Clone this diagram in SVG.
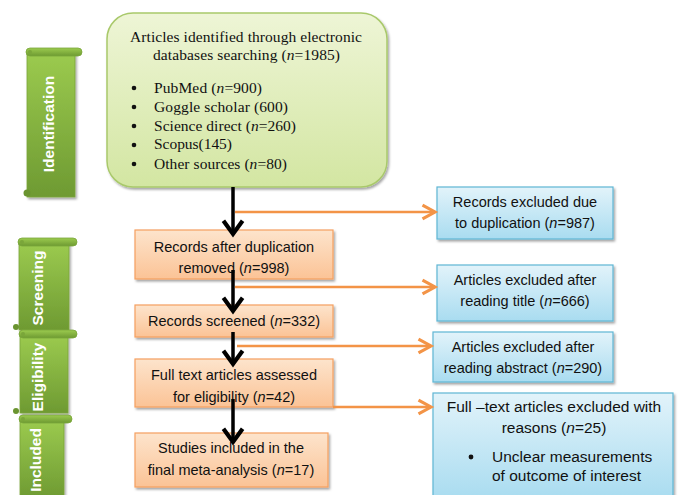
<svg xmlns="http://www.w3.org/2000/svg" width="693" height="495" viewBox="0 0 693 495">
<defs>
  <linearGradient id="gGreen" x1="0" y1="0" x2="0" y2="1">
    <stop offset="0" stop-color="#eef5d6"/>
    <stop offset="1" stop-color="#d3e6a2"/>
  </linearGradient>
  <linearGradient id="gOrange" x1="0" y1="0" x2="0" y2="1">
    <stop offset="0" stop-color="#fde4cc"/>
    <stop offset="1" stop-color="#fbc396"/>
  </linearGradient>
  <linearGradient id="gBlue" x1="0" y1="0" x2="0" y2="1">
    <stop offset="0" stop-color="#e2f3fa"/>
    <stop offset="1" stop-color="#a9dcf0"/>
  </linearGradient>
  <linearGradient id="gScroll" x1="0" y1="0" x2="0" y2="1">
    <stop offset="0" stop-color="#9ccb4f"/>
    <stop offset="1" stop-color="#6e9a32"/>
  </linearGradient>
  <filter id="sh" x="-10%" y="-10%" width="130%" height="130%">
    <feDropShadow dx="1.5" dy="2" stdDeviation="1.2" flood-color="#000" flood-opacity="0.35"/>
  </filter>
  <marker id="ab" markerUnits="userSpaceOnUse" markerWidth="24" markerHeight="24" viewBox="-14 -10 20 20" refX="0" refY="0" orient="auto" overflow="visible">
    <path d="M-11,-8 L0,0 L-11,8" fill="none" stroke="#000" stroke-width="3.5"/>
  </marker>
  <marker id="ao" markerUnits="userSpaceOnUse" markerWidth="20" markerHeight="20" viewBox="-12 -8 16 16" refX="0" refY="0" orient="auto" overflow="visible">
    <path d="M-10,-5.5 L0,0 L-10,5.5" fill="none" stroke="#f39447" stroke-width="2.5"/>
  </marker>
  <style>
    .serif{font-family:"Liberation Serif","Times New Roman",serif;font-size:15.5px;fill:#111}
    .sans{font-family:"Liberation Sans",Arial,sans-serif;font-size:14.5px;fill:#111}
    .arial{font-family:"Liberation Sans",Arial,sans-serif;font-size:15.5px;fill:#111}
    .lab{font-family:"Liberation Sans",Arial,sans-serif;font-size:15.5px;font-weight:bold;fill:#fff}
    .or{fill:url(#gOrange);stroke:#f5a060;stroke-width:1.2}
    .bl{fill:url(#gBlue);stroke:#5fb6d4;stroke-width:1.2}
    .scroll{fill:url(#gScroll);stroke:#7aa63a;stroke-width:0.8}
    .black{stroke:#000;stroke-width:3.5;fill:none}
    .orange{stroke:#f39447;stroke-width:2.5;fill:none}
  </style>
</defs>
<rect width="693" height="495" fill="#fff"/>

<!-- stage scrolls -->
<g id="stage-identification">
  <rect class="scroll" x="27" y="51" width="48" height="146" filter="url(#sh)"/>
  <rect class="scroll" x="26" y="48" width="56" height="8" rx="4"/>
  <circle cx="30" cy="52" r="2" fill="#7aa63a"/>
  <circle cx="27" cy="193" r="3.5" fill="#6a9430"/>
  <text class="lab" transform="translate(48,124) rotate(-90)" text-anchor="middle" dominant-baseline="central">Identification</text>
</g>
<g id="stage-screening">
  <rect class="scroll" x="19" y="242" width="50" height="88" filter="url(#sh)"/>
  <rect class="scroll" x="18" y="238" width="59" height="8" rx="4"/>
  <circle cx="22" cy="242" r="2" fill="#7aa63a"/>
  <circle cx="16" cy="327" r="3" fill="#6a9430"/>
  <text class="lab" transform="translate(37,288) rotate(-90)" text-anchor="middle" dominant-baseline="central">Screening</text>
</g>
<g id="stage-eligibility">
  <rect class="scroll" x="20" y="334" width="48" height="79" filter="url(#sh)"/>
  <rect class="scroll" x="19" y="330" width="58" height="8" rx="4"/>
  <circle cx="23" cy="334" r="2" fill="#7aa63a"/>
  <circle cx="16" cy="411" r="3" fill="#6a9430"/>
  <text class="lab" transform="translate(37,377) rotate(-90)" text-anchor="middle" dominant-baseline="central">Eligibility</text>
</g>
<g id="stage-included">
  <rect class="scroll" x="20" y="419" width="44" height="80" filter="url(#sh)"/>
  <rect class="scroll" x="19" y="415" width="53" height="8" rx="4"/>
  <circle cx="23" cy="419" r="2" fill="#7aa63a"/>
  <text class="lab" transform="translate(35,460) rotate(-90)" text-anchor="middle" dominant-baseline="central">Included</text>
</g>

<!-- main flow -->
<g id="identified">
  <rect x="107" y="13" width="280" height="174" rx="26" fill="url(#gGreen)" stroke="#a9c96b" stroke-width="1.5" filter="url(#sh)"/>
  <text class="serif" x="130" y="42" textLength="232" lengthAdjust="spacing">Articles identified through electronic</text>
  <text class="serif" x="153" y="60" textLength="187" lengthAdjust="spacing">databases searching (<tspan font-style="italic">n</tspan>=1985)</text>
  <g class="serif">
    <circle cx="134" cy="88" r="2.3" fill="#111"/>
    <text x="154" y="93" textLength="108" lengthAdjust="spacing">PubMed (<tspan font-style="italic">n</tspan>=900)</text>
    <circle cx="134" cy="107" r="2.3" fill="#111"/>
    <text x="154" y="112" textLength="134" lengthAdjust="spacing">Goggle scholar (600)</text>
    <circle cx="134" cy="126" r="2.3" fill="#111"/>
    <text x="154" y="131" textLength="142" lengthAdjust="spacing">Science direct (<tspan font-style="italic">n</tspan>=260)</text>
    <circle cx="134" cy="145" r="2.3" fill="#111"/>
    <text x="154" y="149" textLength="78" lengthAdjust="spacing">Scopus(145)</text>
    <circle cx="134" cy="164" r="2.3" fill="#111"/>
    <text x="154" y="169" textLength="133" lengthAdjust="spacing">Other sources (<tspan font-style="italic">n</tspan>=80)</text>
  </g>
</g>

<g id="after-dup">
  <rect class="or" x="135" y="230" width="198" height="49" filter="url(#sh)"/>
  <text class="sans" x="234" y="252" text-anchor="middle">Records after duplication</text>
  <text class="sans" x="234" y="273" text-anchor="middle">removed (<tspan font-style="italic">n</tspan>=998)</text>
</g>
<g id="screened">
  <rect class="or" x="135" y="305" width="198" height="32" filter="url(#sh)"/>
  <text class="sans" x="234" y="326" text-anchor="middle">Records screened (<tspan font-style="italic">n</tspan>=332)</text>
</g>
<g id="eligibility">
  <rect class="or" x="135" y="359" width="198" height="48" filter="url(#sh)"/>
  <text class="sans" x="234" y="380" text-anchor="middle">Full text articles assessed</text>
  <text class="sans" x="234" y="402" text-anchor="middle">for eligibility (<tspan font-style="italic">n</tspan>=42)</text>
</g>
<g id="included">
  <rect class="or" x="135" y="433" width="193" height="54" filter="url(#sh)"/>
  <text class="sans" x="231" y="453" text-anchor="middle">Studies included in the</text>
  <text class="sans" x="231" y="475" text-anchor="middle">final meta-analysis (<tspan font-style="italic">n</tspan>=17)</text>
</g>

<!-- exclusions -->
<g id="excl-dup">
  <rect class="bl" x="437" y="187" width="176" height="52" filter="url(#sh)"/>
  <text class="sans" x="525" y="207" text-anchor="middle">Records excluded due</text>
  <text class="sans" x="525" y="228" text-anchor="middle">to duplication (<tspan font-style="italic">n</tspan>=987)</text>
</g>
<g id="excl-title">
  <rect class="bl" x="437" y="265" width="176" height="56" filter="url(#sh)"/>
  <text class="sans" x="525" y="285" text-anchor="middle">Articles excluded after</text>
  <text class="sans" x="525" y="306" text-anchor="middle">reading title (<tspan font-style="italic">n</tspan>=666)</text>
</g>
<g id="excl-abstract">
  <rect class="bl" x="433" y="332" width="180" height="50" filter="url(#sh)"/>
  <text class="sans" x="523" y="352" text-anchor="middle">Articles excluded after</text>
  <text class="sans" x="523" y="373" text-anchor="middle">reading abstract (<tspan font-style="italic">n</tspan>=290)</text>
</g>
<g id="excl-fulltext">
  <rect class="bl" x="433" y="393" width="240" height="106" filter="url(#sh)"/>
  <text class="arial" x="554" y="412" text-anchor="middle">Full –text articles excluded with</text>
  <text class="arial" x="554" y="433" text-anchor="middle">reasons (<tspan font-style="italic">n</tspan>=25)</text>
  <circle cx="471" cy="457" r="2.4" fill="#111"/>
  <text class="arial" x="492" y="462">Unclear measurements</text>
  <text class="arial" x="492" y="481">of outcome of interest</text>
</g>

<!-- connectors -->
<g id="connectors">
  <line class="orange" x1="235" y1="212" x2="435" y2="212" marker-end="url(#ao)"/>
  <line class="orange" x1="235" y1="287" x2="435" y2="287" marker-end="url(#ao)"/>
  <line class="orange" x1="237" y1="346" x2="431" y2="346" marker-end="url(#ao)"/>
  <line class="orange" x1="333" y1="407" x2="431" y2="407" marker-end="url(#ao)"/>
  <line class="black" x1="233" y1="187" x2="233" y2="234" marker-end="url(#ab)"/>
  <line class="black" x1="233" y1="270" x2="233" y2="311" marker-end="url(#ab)"/>
  <line class="black" x1="233" y1="332" x2="233" y2="364" marker-end="url(#ab)"/>
  <line class="black" x1="233" y1="399" x2="233" y2="442" marker-end="url(#ab)"/>
</g>
</svg>
